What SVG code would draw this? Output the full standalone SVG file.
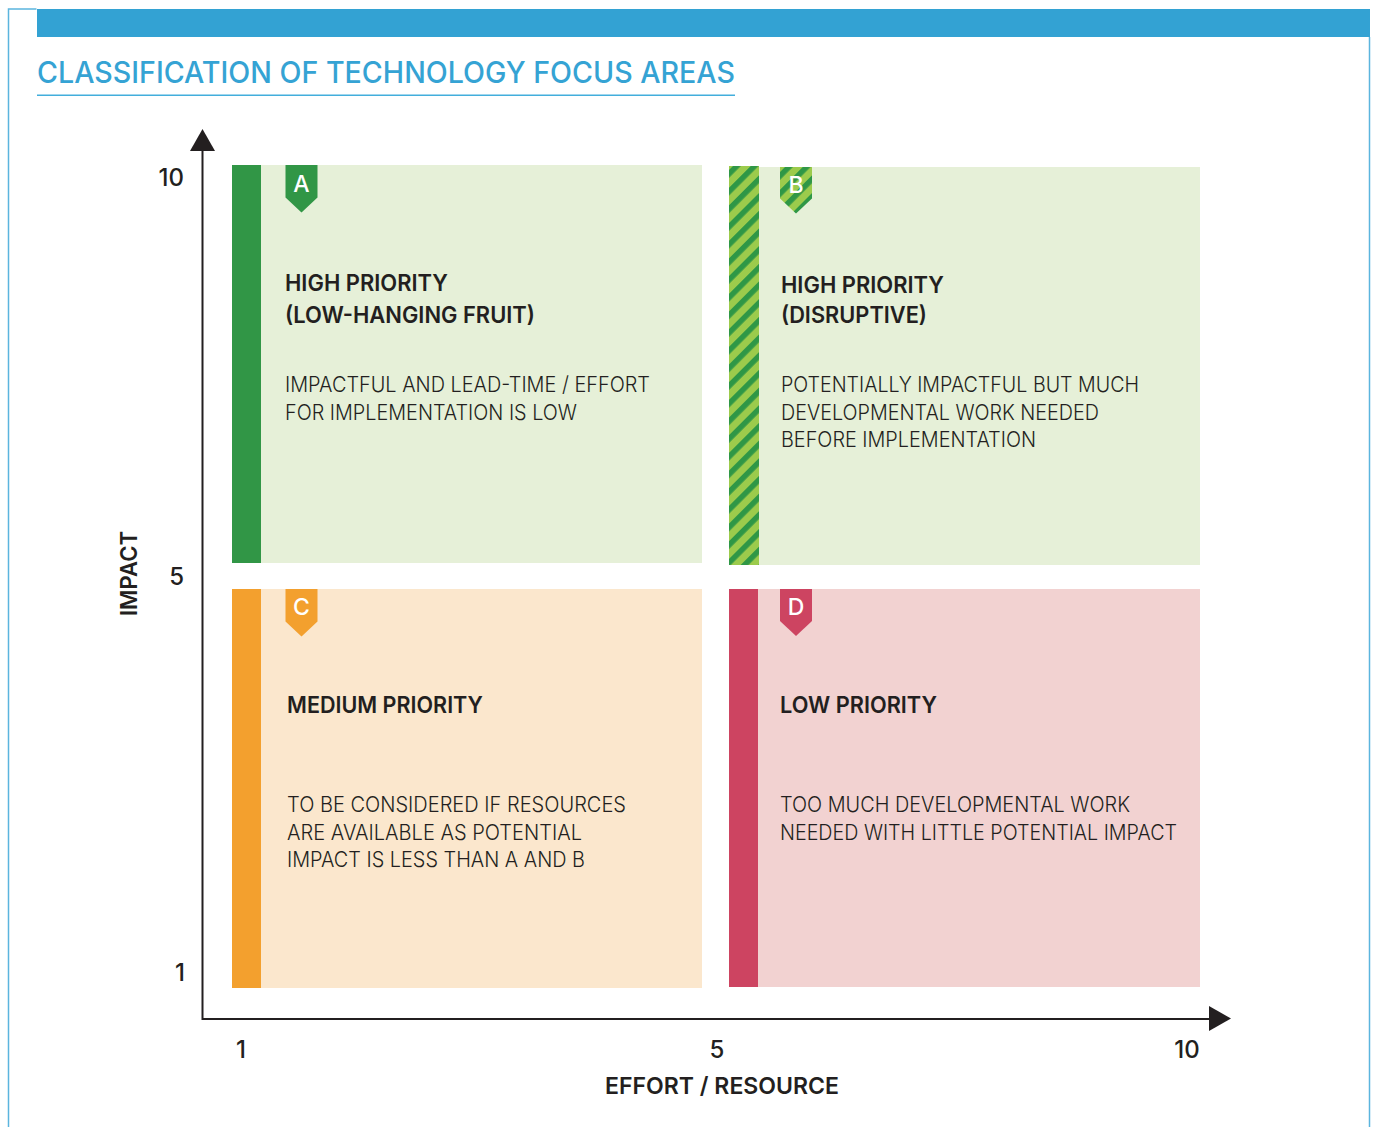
<svg xmlns="http://www.w3.org/2000/svg" width="1375" height="1127" viewBox="0 0 1375 1127">
<style>
text{font-family:"Inter","Noto Sans","Liberation Sans",sans-serif;fill:#231f20}
.title{font-size:29.500px;fill:#35a3d4;font-weight:500}
.head{font-size:23px;font-weight:600}
.body{font-size:21.500px;font-weight:300}
.num{font-size:24px;font-weight:500}
.ax{font-size:23px;font-weight:600}
.tag{font-size:23px;font-weight:500;fill:#fff;text-anchor:middle}
</style>
<defs>
<pattern id="stripes" width="12.500" height="12.500" patternUnits="userSpaceOnUse" patternTransform="translate(729 170) rotate(-45)">
<rect width="12.500" height="12.500" fill="#9ccb4c"/><rect width="12.500" height="5.500" fill="#2f9746"/>
</pattern>
</defs>
<g id="frame">
<path d="M36.500 9H8.500V1127M1369.500 37V1127" fill="none" stroke="#5bb5de" stroke-width="1.500"/>
<rect x="37" y="9" width="1333" height="28" fill="#33a2d3"/>
<text class="title" x="37" y="83" textLength="698" lengthAdjust="spacingAndGlyphs">CLASSIFICATION OF TECHNOLOGY FOCUS AREAS</text>
<rect x="37" y="94.500" width="698" height="1.500" fill="#42aedc"/>
</g>
<g id="node-a">
<rect x="232" y="165" width="470" height="398" fill="#e6f0d8"/>
<rect x="232" y="165" width="29" height="398" fill="#319646"/>
<path d="M285.500 165H317.500V197.500L301.500 212.500L285.500 197.500Z" fill="#319646"/>
<text class="tag" x="301.500" y="191.500">A</text>
<text class="head" x="285" y="291" textLength="163" lengthAdjust="spacingAndGlyphs">HIGH PRIORITY</text>
<text class="head" x="285" y="322.500" textLength="250" lengthAdjust="spacingAndGlyphs">(LOW-HANGING FRUIT)</text>
<text class="body" x="285" y="392" textLength="365" lengthAdjust="spacingAndGlyphs">IMPACTFUL AND LEAD-TIME / EFFORT</text>
<text class="body" x="285" y="420" textLength="292" lengthAdjust="spacingAndGlyphs">FOR IMPLEMENTATION IS LOW</text>
</g>
<g id="node-b">
<rect x="729" y="167" width="471" height="398" fill="#e6f0d8"/>
<rect x="729" y="166" width="30" height="399" fill="url(#stripes)"/>
<path d="M780 167H812V198.500L796 213.500L780 198.500Z" fill="url(#stripes)"/>
<text class="tag" x="796" y="192.500">B</text>
<text class="head" x="781" y="293" textLength="163" lengthAdjust="spacingAndGlyphs">HIGH PRIORITY</text>
<text class="head" x="781" y="322.500" textLength="146" lengthAdjust="spacingAndGlyphs">(DISRUPTIVE)</text>
<text class="body" x="781" y="392" textLength="358" lengthAdjust="spacingAndGlyphs">POTENTIALLY IMPACTFUL BUT MUCH</text>
<text class="body" x="781" y="420" textLength="318" lengthAdjust="spacingAndGlyphs">DEVELOPMENTAL WORK NEEDED</text>
<text class="body" x="781" y="447" textLength="255" lengthAdjust="spacingAndGlyphs">BEFORE IMPLEMENTATION</text>
</g>
<g id="node-c">
<rect x="232" y="589" width="470" height="399" fill="#fbe7cd"/>
<rect x="232" y="589" width="29" height="399" fill="#f3a02e"/>
<path d="M285.500 589H317.500V621.500L301.500 636.500L285.500 621.500Z" fill="#f3a02e"/>
<text class="tag" x="301.500" y="615">C</text>
<text class="head" x="287" y="713" textLength="196" lengthAdjust="spacingAndGlyphs">MEDIUM PRIORITY</text>
<text class="body" x="287" y="812" textLength="339" lengthAdjust="spacingAndGlyphs">TO BE CONSIDERED IF RESOURCES</text>
<text class="body" x="287" y="840" textLength="295" lengthAdjust="spacingAndGlyphs">ARE AVAILABLE AS POTENTIAL</text>
<text class="body" x="287" y="867" textLength="298" lengthAdjust="spacingAndGlyphs">IMPACT IS LESS THAN A AND B</text>
</g>
<g id="node-d">
<rect x="729" y="589" width="471" height="398" fill="#f2d2d1"/>
<rect x="729" y="589" width="29" height="398" fill="#cd4461"/>
<path d="M780 589H812V621L796 636L780 621Z" fill="#cd4461"/>
<text class="tag" x="796" y="615">D</text>
<text class="head" x="780" y="713" textLength="157" lengthAdjust="spacingAndGlyphs">LOW PRIORITY</text>
<text class="body" x="780" y="812" textLength="350" lengthAdjust="spacingAndGlyphs">TOO MUCH DEVELOPMENTAL WORK</text>
<text class="body" x="780" y="840" textLength="397" lengthAdjust="spacingAndGlyphs">NEEDED WITH LITTLE POTENTIAL IMPACT</text>
</g>
<g id="connectors">
<path d="M202.500 150V1019H1210" fill="none" stroke="#231f20" stroke-width="2"/>
<path d="M202.500 129L215 151H190Z" fill="#231f20"/>
<path d="M1209 1006L1231 1018.500L1209 1031Z" fill="#231f20"/>
</g>
<g id="axes">
<text class="num" x="184" y="186" text-anchor="end">10</text>
<text class="num" x="184" y="585" text-anchor="end">5</text>
<text class="num" x="185" y="981" text-anchor="end">1</text>
<text class="num" x="241" y="1058" text-anchor="middle">1</text>
<text class="num" x="717" y="1058" text-anchor="middle">5</text>
<text class="num" x="1187" y="1058" text-anchor="middle">10</text>
<text class="ax" x="605" y="1094" textLength="234" lengthAdjust="spacingAndGlyphs">EFFORT / RESOURCE</text>
<text class="ax" transform="translate(137 616) rotate(-90)" textLength="85" lengthAdjust="spacingAndGlyphs">IMPACT</text>
</g>
</svg>
